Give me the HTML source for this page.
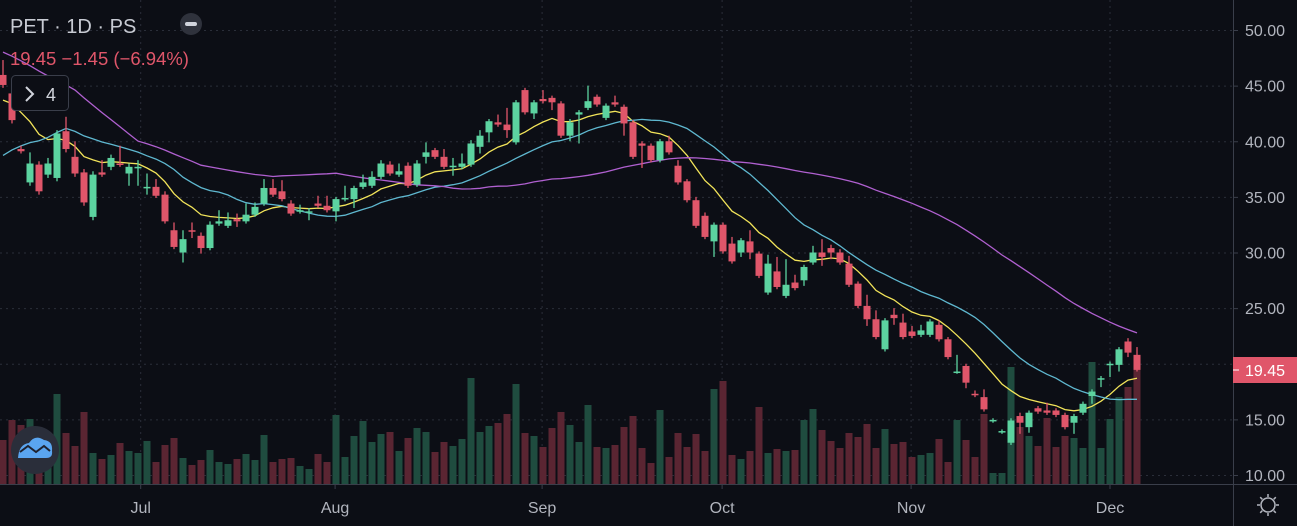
<!DOCTYPE html>
<html><head><meta charset="utf-8">
<style>
html,body{margin:0;padding:0;background:#0c0e15;}
body{width:1297px;height:526px;overflow:hidden;font-family:"Liberation Sans",sans-serif;}
svg{display:block}
</style></head>
<body>
<svg id="chart" width="1297" height="526" viewBox="0 0 1297 526" xmlns="http://www.w3.org/2000/svg">
<rect x="0" y="0" width="1297" height="526" fill="#0c0e15"/>
<g id="grid"></g>
<g id="vol"></g>
<g id="ma"></g>
<g id="candles"></g>
<line x1="1233.5" y1="0" x2="1233.5" y2="526" stroke="#3a3e4a" stroke-width="1"/>
<line x1="0" y1="484.5" x2="1297" y2="484.5" stroke="#3a3e4a" stroke-width="1"/>
<g id="yaxis"></g>
<g id="xaxis"></g>
<g>
<rect x="1233" y="357" width="64" height="26" fill="#e0566a"/>
<line x1="1233" y1="370" x2="1239" y2="370" stroke="#fff" stroke-width="1"/>
<text x="1245" y="376" fill="#ffffff" font-size="16" font-family="Liberation Sans, sans-serif">19.45</text>
</g>
<text x="10" y="33" fill="#c8cbd3" font-size="20" font-family="Liberation Sans, sans-serif">PET · 1D · PS</text>
<g>
<circle cx="191" cy="24" r="11" fill="#2f323c"/>
<rect x="185" y="22" width="12" height="4" rx="2" fill="#d1d4dc"/>
</g>
<text x="10" y="65" fill="#e0566a" font-size="18.5" font-family="Liberation Sans, sans-serif">19.45 −1.45 (−6.94%)</text>
<g>
<rect x="11.5" y="75.5" width="57" height="35" rx="4" fill="#0c0e15" stroke="#3a3e4a"/>
<path d="M26 87 L33 94 L26 101" fill="none" stroke="#d1d4dc" stroke-width="2"/>
<text x="46" y="101" fill="#d1d4dc" font-size="18" font-family="Liberation Sans, sans-serif">4</text>
</g>
<g>
<circle cx="35" cy="450" r="24" fill="#2a2e3a"/>
<path d="M18 458 Q19 444 29 443 Q35 434 44 440 Q53 441 52 451 Q53 458 46 458 Z" fill="#5aa5f0"/>
<path d="M20 452 L28 446 L36 452 L44 446 L50 451" fill="none" stroke="#1e2230" stroke-width="2"/>
</g>
<g transform="translate(1268,505)">
<circle r="7" fill="none" stroke="#b2b5be" stroke-width="1.5"/>
<g stroke="#b2b5be" stroke-width="1.5">
<line x1="0" y1="-8" x2="0" y2="-11"/><line x1="0" y1="8" x2="0" y2="11"/>
<line x1="-8" y1="0" x2="-11" y2="0"/><line x1="8" y1="0" x2="11" y2="0"/>
<line x1="5.7" y1="5.7" x2="7.8" y2="7.8"/><line x1="-5.7" y1="-5.7" x2="-7.8" y2="-7.8"/>
<line x1="5.7" y1="-5.7" x2="7.8" y2="-7.8"/><line x1="-5.7" y1="5.7" x2="-7.8" y2="7.8"/>
</g></g>
</svg>
<script>
const openP=[45.96,44.3,39.3,36.3,37.9,37.0,36.7,40.9,38.6,37.2,33.2,37.2,37.7,38.0,37.1,37.6,35.8,35.9,35.2,32.0,30.0,32.0,31.5,30.4,32.6,32.4,33.0,32.8,33.4,34.4,
35.8,35.5,34.4,33.7,33.6,34.4,34.2,33.7,34.8,34.8,35.9,36.0,36.8,37.9,37.0,37.8,36.1,38.6,39.2,38.6,37.7,37.7,37.9,39.5,40.8,41.7,41.5,39.9,44.6,
42.5,43.8,43.9,43.4,40.5,42.4,43.0,44.0,42.1,43.5,43.1,41.7,39.8,39.6,38.3,40.0,37.8,36.4,34.7,33.3,31.0,32.5,30.8,30.0,31.0,29.9,26.4,28.3,26.1,
27.3,27.5,29.1,30.0,30.4,30.0,29.0,27.2,25.2,24.0,21.3,24.4,23.7,22.9,22.6,22.6,23.5,22.2,19.2,19.8,17.3,17.0,14.85,13.85,12.9,15.3,14.3,16.0,15.8,
15.8,15.4,14.7,15.6,17.1,18.6,19.9,19.9,22.0,20.8];
const closeP=[45.06,41.9,39.1,38.0,35.5,38.0,40.7,39.3,37.1,34.5,37.0,37.0,38.5,37.9,37.7,37.7,35.9,35.1,32.8,30.5,31.2,31.9,30.4,32.5,32.8,32.9,32.8,33.4,34.1,35.8,
35.2,34.8,33.5,33.8,33.7,34.2,33.8,34.8,34.9,35.8,36.3,36.8,38.0,37.1,37.3,36.0,38.0,39.0,38.6,37.7,37.8,38.0,39.8,40.5,41.8,41.5,41.0,43.5,42.6,
43.5,43.6,43.5,40.5,41.7,42.6,43.6,43.3,43.2,43.3,41.6,38.6,39.6,38.3,40.0,39.0,36.3,34.7,32.4,31.4,32.5,30.1,29.2,31.1,30.0,27.9,29.0,26.9,27.1,
26.8,28.7,30.0,29.6,30.0,29.1,27.1,25.2,24.0,22.4,23.9,24.1,22.4,22.5,23.0,23.8,22.2,20.6,19.3,18.3,17.2,15.9,14.95,13.95,14.9,14.7,15.6,15.7,15.6,
15.4,14.3,15.3,16.4,17.5,18.7,20.0,21.3,21.0,19.45];
const highP=[47.3,44.6,39.6,39.0,38.2,38.5,41.0,42.2,40.0,37.5,37.3,38.3,38.8,39.6,38.0,38.3,37.1,36.6,35.5,32.7,32.0,32.7,31.8,32.8,33.8,33.6,33.5,34.4,34.5,36.6,
36.6,36.5,34.7,34.3,34.0,35.1,35.1,35.0,36.0,36.0,37.0,37.3,38.3,38.2,38.0,38.1,38.3,39.9,39.4,39.3,38.5,38.9,40.1,41.0,42.0,42.4,43.0,43.7,44.8,
43.7,44.6,44.1,43.6,42.0,42.8,45.0,44.2,43.4,44.1,43.3,41.9,40.0,39.8,40.2,40.5,38.3,36.6,35.0,33.6,32.7,32.7,31.4,31.3,32.0,30.1,29.8,29.6,29.4,
28.0,28.9,30.6,31.2,30.7,30.3,29.7,27.4,26.2,24.8,24.1,25.0,24.5,23.4,23.5,24.0,23.9,22.4,20.8,20.0,17.6,17.7,15.1,14.1,15.1,15.6,15.8,16.2,16.5,
16.0,15.6,15.5,16.6,17.7,18.9,20.2,21.5,22.3,21.5];
const lowP=[44.8,41.6,38.9,36.0,35.2,36.7,36.4,39.0,36.8,34.2,32.9,36.8,37.4,37.7,36.0,36.0,35.2,34.9,32.6,30.3,29.1,31.3,29.9,30.2,32.4,32.2,32.3,32.6,33.2,34.2,
35.0,34.6,33.3,33.5,32.9,34.0,33.6,32.8,34.6,34.0,35.7,35.8,36.6,36.9,36.8,35.8,35.9,38.0,38.4,37.5,36.9,37.5,37.7,38.9,39.9,41.3,40.3,39.7,42.4,
42.0,43.4,42.8,40.3,40.0,39.8,42.8,43.1,41.9,43.1,40.5,38.4,37.6,38.1,38.1,38.8,36.1,34.5,32.2,31.2,29.6,29.9,29.0,29.6,29.4,27.7,26.2,26.7,25.9,
26.6,27.0,28.9,28.8,29.4,28.9,26.9,25.0,23.4,22.2,21.1,23.5,22.2,22.3,22.4,22.4,22.0,20.4,19.1,17.8,17.0,15.7,14.7,13.7,12.7,13.7,13.8,15.5,15.4,
15.2,14.1,13.7,15.4,16.4,17.9,18.8,19.3,20.6,19.3];
const volumes=[44,64,59,65,48,41,90,51,38,72,31,25,29,41,33,31,43,22,39,46,26,19,24,34,22,20,25,30,24,49,
22,25,26,18,15,30,22,69,27,48,63,42,50,52,33,46,56,52,32,42,38,45,106,52,58,61,70,100,51,
48,37,56,72,59,42,79,37,36,39,57,68,36,21,74,27,51,37,50,33,95,103,29,25,33,77,31,35,33,
34,64,75,54,43,36,51,47,60,36,55,40,42,27,29,31,45,22,64,44,27,70,11,11,117,57,48,38,66,
37,48,46,36,122,36,65,87,97,115];
// estimated closes before the visible window (needed to warm up the moving averages)
const priorCloses=[60,60,60,60,60,60,60,60,70,70,70,70,70,70,70,48,48,48,48,48,48,48,40,40,40,40,40,40,40,40,
32,32,32,32,32,32,32,42.5,42.5,42.5,42.5,42.5,42.5,42.5,42.5,42.5,41,41,41];
const priceTicks=[50,45,40,35,30,25,20,15,10];
const priceTickLabels=["50.00","45.00","40.00","35.00","30.00","25.00","20.00","15.00","10.00"];
const monthLabels=["Jul","Aug","Sep","Oct","Nov","Dec"];
const monthIndex=[15.3,36.9,59.9,79.9,100.9,123];
const emaPeriod=10, emaSeed=43.7;
const smaPeriods=[20,50];
const maColors=["#f2e45a","#5fb8d0","#b060d0"];

const NS="http://www.w3.org/2000/svg";
function yOf(p){return 30+(50-p)*11.125;}
function xOf(i){return 3+i*9.0;}
function vY(v){return 484-v*1.0;}
function mk(tag,attrs,parent){const e=document.createElementNS(NS,tag);for(const k in attrs)e.setAttribute(k,attrs[k]);parent.appendChild(e);return e;}

const grid=document.getElementById('grid');
const yaxis=document.getElementById('yaxis');
priceTicks.forEach((p,k)=>{
  const l=mk('line',{x1:0,x2:1233,y1:yOf(p)+0.5,y2:yOf(p)+0.5,stroke:'#2a2e39','stroke-dasharray':'2 4'},grid);
  
  
  const t=mk('text',{x:1245,y:yOf(p)+6,fill:'#b2b5be','font-size':'16','font-family':'Liberation Sans, sans-serif'},yaxis);
  t.textContent=priceTickLabels[k];
  
  
  mk('line',{x1:1233,x2:1238,y1:yOf(p)+0.5,y2:yOf(p)+0.5,stroke:'#3a3e4a'},yaxis);
});
const xaxis=document.getElementById('xaxis');
monthLabels.forEach((m,k)=>{
  const x=xOf(monthIndex[k]);
  const l=mk('line',{x1:x,x2:x,y1:0,y2:484,stroke:'#2a2e39','stroke-dasharray':'2 4'},grid);
  
  
  mk('line',{x1:x,x2:x,y1:484,y2:489,stroke:'#3a3e4a'},xaxis);
  const t=mk('text',{x:x,y:513,fill:'#b2b5be','font-size':'16','text-anchor':'middle','font-family':'Liberation Sans, sans-serif'},xaxis);
  t.textContent=m;
  
  
});

const volG=document.getElementById('vol');
const cG=document.getElementById('candles');
const n=closeP.length;
for(let i=0;i<n;i++){
  const up=closeP[i]>=openP[i];
  const x=xOf(i);
  const vb=mk('rect',{x:x-3.5,y:vY(volumes[i]),width:7,height:484-vY(volumes[i]),fill:up?'#1f4c3f':'#5a2532'},volG);
  
  
  const col=up?'#5cd3a0':'#e0566a';
  const w=mk('line',{x1:x,x2:x,y1:yOf(highP[i]),y2:yOf(lowP[i]),stroke:col,'stroke-width':1.3},cG);
  
  
  const top=yOf(Math.max(openP[i],closeP[i])),bot=yOf(Math.min(openP[i],closeP[i]));
  const b=mk('rect',{x:x-3.5,y:top,width:7,height:Math.max(1.5,bot-top),fill:col},cG);
  
  
}
const maG=document.getElementById('ma');
// EMA (yellow)
{
  const a=2/(emaPeriod+1);let e=emaSeed;let d='';
  for(let i=0;i<n;i++){e=i===0?e:e+a*(closeP[i]-e);d+=(i?'L':'M')+xOf(i).toFixed(1)+' '+yOf(e).toFixed(1);}
  const p=mk('path',{d:d,fill:'none',stroke:maColors[0],'stroke-width':1.3},maG);
  
  
}
// SMAs (cyan, purple)
const all=priorCloses.concat(closeP);
const off=priorCloses.length;
smaPeriods.forEach((per,k)=>{
  let d='';
  for(let i=0;i<n;i++){
    const j=off+i;let s=0,c=0;
    for(let q=Math.max(0,j-per+1);q<=j;q++){s+=all[q];c++;}
    d+=(i?'L':'M')+xOf(i).toFixed(1)+' '+yOf(s/c).toFixed(1);
  }
  const p=mk('path',{d:d,fill:'none',stroke:maColors[k+1],'stroke-width':1.3},maG);
  
  
});
</script>
</body></html>
